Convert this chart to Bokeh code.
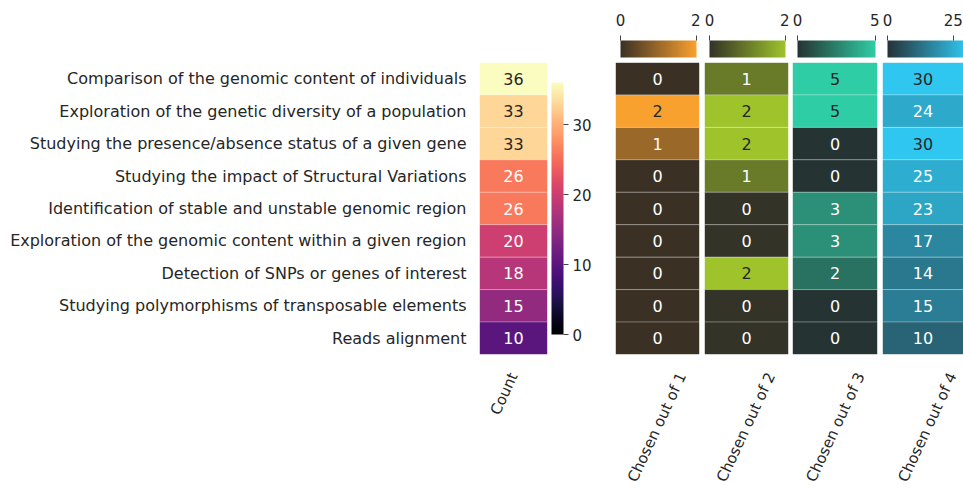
import math
from bokeh.plotting import figure
from bokeh.models import FactorRange, LinearColorMapper, ColorBar, FixedTicker, ColumnDataSource
from bokeh.layouts import row
from bokeh.palettes import Magma256
from bokeh.core.properties import value
from bokeh.embed import file_html
from bokeh.resources import INLINE

# ---------------- data ----------------
tasks = [
    "Comparison of the genomic content of individuals",
    "Exploration of the genetic diversity of a population",
    "Studying the presence/absence status of a given gene",
    "Studying the impact of Structural Variations",
    "Identification of stable and unstable genomic region",
    "Exploration of the genomic content within a given region",
    "Detection of SNPs or genes of interest",
    "Studying polymorphisms of transposable elements",
    "Reads alignment",
]
count_label = "Count"
count = [36, 33, 33, 26, 26, 20, 18, 15, 10]
count_ticks = [0, 10, 20, 30]
count_high = 36

chosen_labels = ["Chosen out of 1", "Chosen out of 2", "Chosen out of 3", "Chosen out of 4"]
chosen_1 = [0, 2, 1, 0, 0, 0, 0, 0, 0]
chosen_2 = [1, 2, 2, 1, 0, 0, 2, 0, 0]
chosen_3 = [5, 5, 0, 0, 3, 3, 2, 0, 0]
chosen_4 = [30, 24, 30, 25, 23, 17, 14, 15, 10]
chosen_values = [chosen_1, chosen_2, chosen_3, chosen_4]
chosen_high = [2, 2, 5, 30]
chosen_ticks = [[0, 2], [0, 2], [0, 5], [0, 25]]

# ---------------- style ----------------
FONT = "DejaVu Sans"
FS_Y = "16px"
FS_CELL = "16px"
FS_CB = "15px"
FS_X = "15px"
TXT = "#262626"
DARK = ["#3a3124", "#333327", "#253432", "#253239"]
BRIGHT = ["#f9a12e", "#9ec32b", "#2fcda5", "#2fc7ef"]
H = 491
TOP = 62
BOTTOM = 136


def hex2rgb(c):
    c = c.lstrip("#")
    return [int(c[i:i + 2], 16) for i in (0, 2, 4)]


def blend(c0, c1, n=256):
    a, b = hex2rgb(c0), hex2rgb(c1)
    return ["#%02x%02x%02x" % tuple(int(round(a[k] + (b[k] - a[k]) * i / (n - 1))) for k in range(3))
            for i in range(n)]


def lookup(pal, low, high, v):
    i = int((v - low) / (high - low) * len(pal))
    return pal[max(0, min(len(pal) - 1, i))]


def lum(c):
    out = []
    for x in hex2rgb(c):
        x = x / 255
        out.append(x / 12.92 if x <= 0.03928 else ((x + 0.055) / 1.055) ** 2.4)
    return 0.2126 * out[0] + 0.7152 * out[1] + 0.0722 * out[2]


def base_fig(label, width, bl, br, yaxis):
    p = figure(width=width, height=H, x_range=FactorRange(label), y_range=FactorRange(*tasks[::-1]),
               output_backend="svg", toolbar_location=None,
               y_axis_location="left" if yaxis else None,
               min_border_left=bl, min_border_right=br, min_border_top=TOP, min_border_bottom=BOTTOM)
    p.xgrid.visible = False
    p.ygrid.visible = False
    p.outline_line_color = None
    p.background_fill_color = "white"
    for ax in p.axis:
        ax.axis_line_color = None
        ax.major_tick_line_color = None
        ax.minor_tick_line_color = None
        ax.major_tick_out = 0
        ax.major_tick_in = 0
        ax.major_label_text_font = FONT
        ax.major_label_text_color = TXT
    p.xaxis.major_label_text_font_size = FS_X
    p.xaxis.major_label_orientation = math.radians(65)
    p.xaxis.major_label_standoff = 19
    if yaxis:
        p.yaxis.major_label_text_font_size = FS_Y
        p.yaxis.major_label_standoff = 13
    return p


def heat(p, label, vals, pal, high):
    mapper = LinearColorMapper(palette=pal, low=0, high=high)
    colors = [lookup(pal, 0, high, v) for v in vals]
    src = ColumnDataSource(dict(
        x=[label] * len(vals), y=tasks, v=vals, t=[str(v) for v in vals],
        tc=[TXT if lum(c) > 0.408 else "white" for c in colors]))
    p.rect(x="x", y="y", width=1, height=1, source=src,
           fill_color={"field": "v", "transform": mapper},
           line_color="white", line_alpha=0.25, line_width=1)
    p.text(x="x", y="y", text="t", source=src, text_color="tc",
           text_font=value(FONT), text_font_size=value(FS_CELL),
           text_align="center", text_baseline="middle")
    return mapper


# Count panel
p0 = base_fig(count_label, 611, 479, 64, True)
m0 = heat(p0, count_label, count, Magma256, count_high)
cb0 = ColorBar(color_mapper=m0, ticker=FixedTicker(ticks=count_ticks), orientation="vertical",
               width=12, height=252, location="center_left", margin=0, padding=4,
               major_tick_in=0, major_tick_out=5, major_tick_line_color="#444444",
               label_standoff=4, major_label_text_font=FONT, major_label_text_font_size=FS_CB,
               major_label_text_color=TXT, background_fill_alpha=0, bar_line_color=None)
p0.add_layout(cb0, "right")

figs = [p0]
geo = [(89, 4, 1), (89, 4, 1), (90, 3, 2), (84, 3, 0)]
cb_width = [76, 76, 78, 79]
for k in range(4):
    w, bl, br = geo[k]
    p = base_fig(chosen_labels[k], w, bl, br, False)
    pal = blend(DARK[k], BRIGHT[k])
    m = heat(p, chosen_labels[k], chosen_values[k], pal, chosen_high[k])
    cb = ColorBar(color_mapper=m, ticker=FixedTicker(ticks=chosen_ticks[k]), orientation="horizontal",
                  width=cb_width[k], height=17, location="bottom_left", margin=0, padding=5,
                  major_tick_in=0, major_tick_out=5, major_tick_line_color="#444444",
                  label_standoff=10, major_label_text_font=FONT, major_label_text_font_size=FS_CB,
                  major_label_text_color=TXT, background_fill_alpha=0, bar_line_color=None)
    p.add_layout(cb, "above")
    figs.append(p)

layout = row(*figs, spacing=0)
open("out.html", "w").write(file_html(layout, INLINE))
